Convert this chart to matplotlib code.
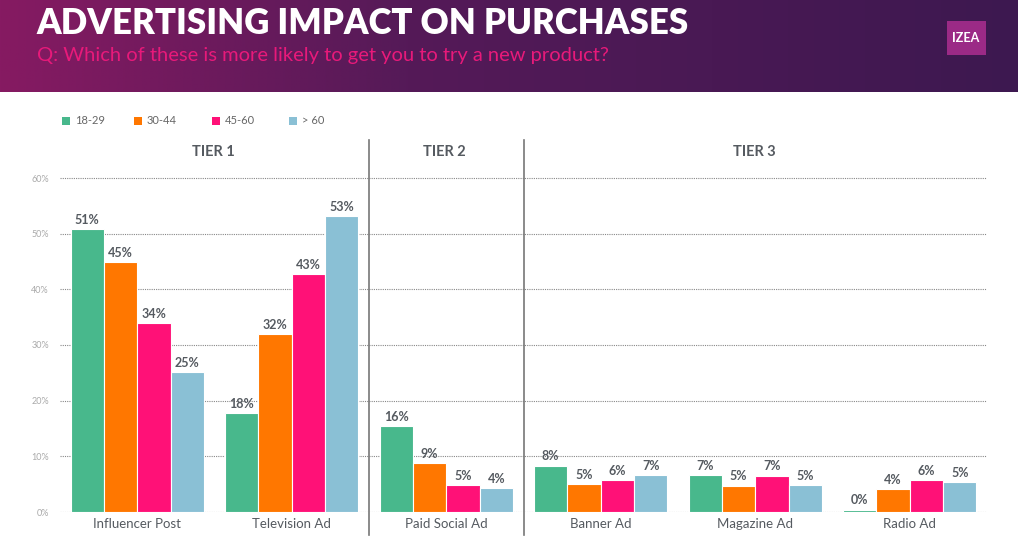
import matplotlib
matplotlib.use("Agg")
import matplotlib.pyplot as plt
import numpy as np
from matplotlib.patches import Rectangle

plt.rcParams['font.family'] = ['Lato', 'DejaVu Sans']

categories = ["Influencer Post", "Television Ad", "Paid Social Ad", "Banner Ad", "Magazine Ad", "Radio Ad"]
series_names = ["18-29", "30-44", "45-60", "> 60"]
v_18_29 = [50.8, 17.8, 15.4, 8.3, 6.6, 0.4]
v_30_44 = [44.9, 32.0, 8.8, 5.0, 4.7, 4.1]
v_45_60 = [33.9, 42.7, 4.8, 5.7, 6.5, 5.7]
v_over60 = [25.1, 53.1, 4.3, 6.6, 4.8, 5.4]
lbl_18_29 = [51, 18, 16, 8, 7, 0]
lbl_30_44 = [45, 32, 9, 5, 5, 4]
lbl_45_60 = [34, 43, 5, 6, 7, 6]
lbl_over60 = [25, 53, 4, 7, 5, 5]
tiers = ["TIER 1", "TIER 2", "TIER 3"]
yticks = [0, 10, 20, 30, 40, 50, 60]

colors = ["#48b88c", "#ff7700", "#ff1177", "#8ac0d5"]
W, H = 1018, 552
fig = plt.figure(figsize=(W / 100, H / 100), dpi=100)

# header gradient
hax = fig.add_axes([0, 1 - 92 / H, 1, 92 / H])
c1 = np.array([0x86, 0x1a, 0x62]) / 255
c2 = np.array([0x55, 0x1a, 0x58]) / 255
c3 = np.array([0x3d, 0x18, 0x50]) / 255
t = np.linspace(0, 1, 400)
grad = np.zeros((1, 400, 3))
for i, tt in enumerate(t):
    if tt < 0.4:
        grad[0, i] = c1 + (c2 - c1) * (tt / 0.4)
    else:
        grad[0, i] = c2 + (c3 - c2) * ((tt - 0.4) / 0.6)
hax.imshow(grad, aspect='auto', extent=[0, 1, 0, 1])
hax.set_xlim(0, 1); hax.set_ylim(0, 1)
hax.axis('off')
fig.text(36 / W, 1 - 24 / H, "ADVERTISING IMPACT ON PURCHASES", color="white",
         fontsize=25, fontweight="heavy", va="center", ha="left")
fig.text(37 / W, 1 - 56 / H, "Q: Which of these is more likely to get you to try a new product?",
         color="#e8197a", fontsize=14.5, va="center", ha="left")
# logo
fig.patches.append(Rectangle((947 / W, 1 - 55 / H), 39 / W, 34 / H, transform=fig.transFigure,
                             facecolor="#9b2a86", edgecolor="none"))
fig.text(966 / W, 1 - 38 / H, "IZEA", color="white", fontsize=9, fontweight="bold",
         ha="center", va="center")

# main axes
y0 = 512; px_per = (512 - 178) / 60.0
ymax = 66.5
ax_top = y0 - ymax * px_per
ax = fig.add_axes([60 / W, 1 - y0 / H, (987 - 60) / W, (y0 - ax_top) / H])
ax.set_xlim(-0.5, 5.5)
ax.set_ylim(0, ymax)
x = np.arange(len(categories))
bw = 0.216
series = [v_18_29, v_30_44, v_45_60, v_over60]
labels = [lbl_18_29, lbl_30_44, lbl_45_60, lbl_over60]
for k, (vals, lbls, col) in enumerate(zip(series, labels, colors)):
    xs = x + (k - 1.5) * bw
    ax.bar(xs, vals, width=bw, color=col, edgecolor="white", linewidth=0.8, zorder=3)
    for xi, v, l in zip(xs, vals, lbls):
        ax.text(xi, v + 0.6, f"{l}%", ha="center", va="bottom", fontsize=9,
                fontweight="bold", color="#555a60", zorder=4)

for yt in yticks:
    ax.axhline(yt, color="#888888", linestyle=(0, (1, 1)), linewidth=0.8, zorder=1)
ax.set_yticks(yticks)
ax.set_yticklabels([f"{v}%" for v in yticks], fontsize=6.5, color="#aaaaaa")
ax.set_xticks(x)
ax.set_xticklabels(categories, fontsize=9.5, color="#555a60")
ax.tick_params(axis='both', length=0)
ax.tick_params(axis='y', pad=8)
ax.tick_params(axis='x', pad=4)
for s in ax.spines.values():
    s.set_visible(False)

for xd in [1.5, 2.5]:
    ax.plot([xd, xd], [-4.2, ymax + 0.3], color="#777777", linewidth=1.2, clip_on=False, zorder=2)

for tx, tn in zip([213, 444, 754], tiers):
    fig.text(tx / W, 1 - 152 / H, tn, ha="center", va="center", fontsize=10.5,
             fontweight="bold", color="#555a60")

# legend
leg_x = [62, 134, 212, 289]
for lx, name, col in zip(leg_x, series_names, colors):
    fig.patches.append(Rectangle((lx / W, 1 - 125 / H), 8 / W, 8 / H, transform=fig.transFigure,
                                 facecolor=col, edgecolor="none"))
    fig.text((lx + 13) / W, 1 - 121 / H, name, fontsize=8, color="#666666", va="center", ha="left")

fig.savefig("out.png", dpi=100)
